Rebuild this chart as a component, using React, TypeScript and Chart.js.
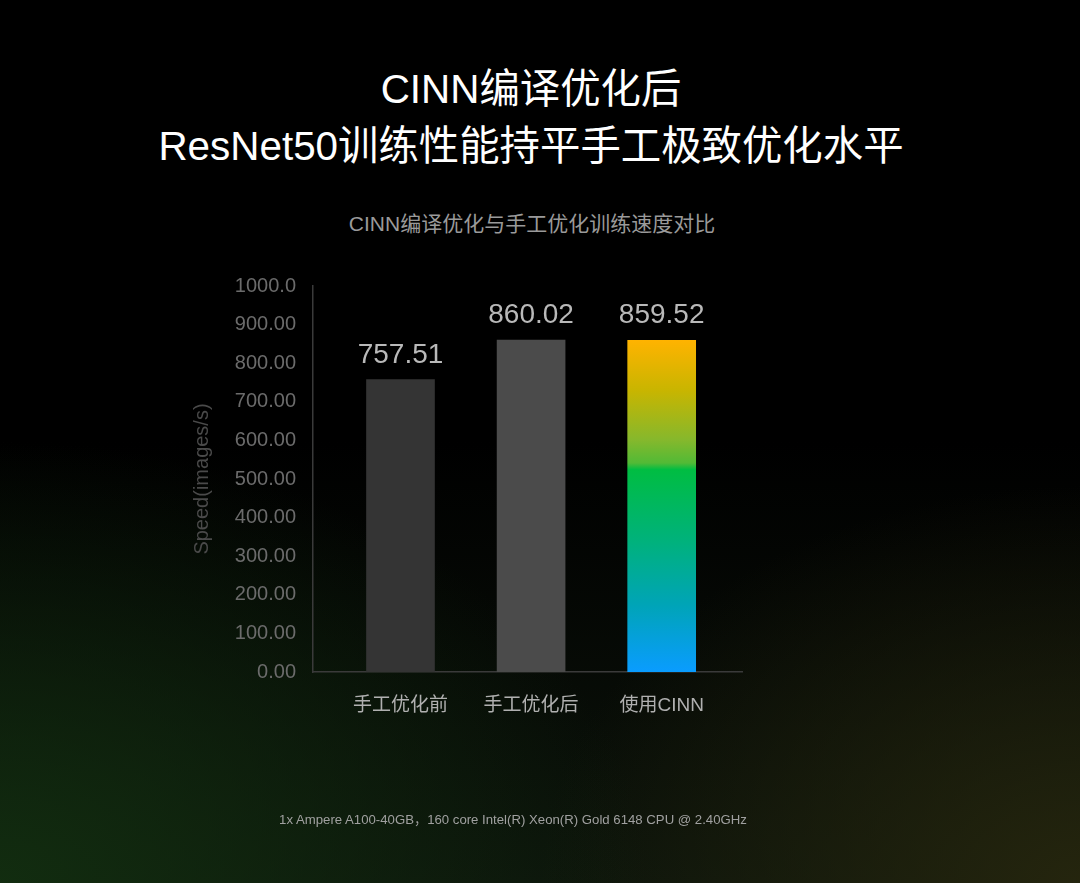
import React, { useEffect, useRef } from "react";
import { Chart, registerables } from "chart.js";

Chart.register(...registerables);

const categories = ["手工优化前", "手工优化后", "使用CINN"];
const speedValues = [757.51, 860.02, 859.52];
const valueLabels = ["757.51", "860.02", "859.52"];
const yTickValues = [0, 100, 200, 300, 400, 500, 600, 700, 800, 900, 1000];
const yTickLabels = ["0.00", "100.00", "200.00", "300.00", "400.00", "500.00", "600.00", "700.00", "800.00", "900.00", "1000.0"];

const FONT = "'Liberation Sans', 'Noto Sans CJK SC', sans-serif";

const valueLabelPlugin = {
  id: "valueLabels",
  afterDatasetsDraw(chart: any) {
    const ctx = chart.ctx;
    const meta = chart.getDatasetMeta(0);
    ctx.save();
    ctx.font = `28px ${FONT}`;
    ctx.fillStyle = "#b9b9b9";
    ctx.textAlign = "center";
    ctx.textBaseline = "alphabetic";
    meta.data.forEach((bar: any, i: number) => {
      ctx.fillText(valueLabels[i], bar.x, bar.y - 17);
    });
    ctx.restore();
  },
};

export default function App() {
  const ref = useRef<HTMLCanvasElement | null>(null);

  useEffect(() => {
    if (!ref.current) return;
    Chart.defaults.font.family = FONT;
    const chart = new Chart(ref.current, {
      type: "bar",
      data: {
        datasets: [
          {
            data: categories.map((_, i) => ({ x: i, y: speedValues[i] })),
            barThickness: 68,
            borderWidth: 0,
            backgroundColor: (c: any) => {
              const i = c.dataIndex;
              if (i === 0) return "#343434";
              if (i === 1) return "#4b4b4b";
              const chartRef = c.chart;
              const area = chartRef.chartArea;
              const ys = chartRef.scales?.y;
              if (!area || !ys) return "#00bd42";
              const top = ys.getPixelForValue(speedValues[i]);
              const bottom = ys.getPixelForValue(0);
              const g = chartRef.ctx.createLinearGradient(0, top, 0, bottom);
              g.addColorStop(0, "#ffb300");
              g.addColorStop(0.15, "#c9b500");
              g.addColorStop(0.3, "#86b82c");
              g.addColorStop(0.37, "#52ba36");
              g.addColorStop(0.39, "#00bd42");
              g.addColorStop(0.6, "#00b27a");
              g.addColorStop(0.8, "#00a4b8");
              g.addColorStop(1, "#0a9cff");
              return g;
            },
          },
        ],
      },
      options: {
        responsive: false,
        animation: false,
        devicePixelRatio: 1,
        layout: { padding: { left: 186, right: 338, top: 286, bottom: 151 } },
        plugins: {
          legend: { display: false },
          tooltip: { enabled: false },
        },
        scales: {
          x: {
            type: "linear",
            offset: false,
            min: -0.67,
            max: 2.615,
            afterBuildTicks: (scale: any) => {
              scale.ticks = categories.map((_, i) => ({ value: i }));
            },
            afterFit: (scale: any) => {
              scale.height = 60;
            },
            grid: { display: false, drawTicks: false, offset: false },
            border: { display: true, color: "#3a3a3a", width: 1.5 },
            ticks: {
              color: "#b0b0b0",
              font: { size: 19 },
              padding: 22,
              maxRotation: 0,
              autoSkip: false,
              callback: (v: any) => categories[v as number] ?? "",
            },
          },
          y: {
            min: 0,
            max: 1000,
            afterBuildTicks: (scale: any) => {
              scale.ticks = yTickValues.map((v) => ({ value: v }));
            },
            afterFit: (scale: any) => {
              scale.width = 127;
            },
            grid: { display: false, drawTicks: false },
            border: { display: true, color: "#3a3a3a", width: 1.5 },
            ticks: {
              color: "#6b6b6b",
              font: { size: 20 },
              padding: 17,
              callback: (v: any) => {
                const idx = yTickValues.indexOf(v as number);
                return idx >= 0 ? yTickLabels[idx] : "";
              },
            },
            title: {
              display: true,
              text: "Speed(images/s)",
              color: "#4a4a4a",
              font: { size: 20 },
              padding: { top: 4, bottom: 4 },
            },
          },
        },
      },
      plugins: [valueLabelPlugin],
    } as any);
    return () => chart.destroy();
  }, []);

  return (
    <div
      style={{
        position: "fixed",
        left: 0,
        top: 0,
        width: 1080,
        height: 883,
        overflow: "hidden",
        backgroundColor: "#000",
        backgroundImage:
          "radial-gradient(ellipse 60% 50% at 0% 100%, rgba(18,46,16,0.95), rgba(18,46,16,0) 100%), radial-gradient(ellipse 50% 45% at 100% 100%, rgba(38,38,14,0.95), rgba(38,38,14,0) 100%), linear-gradient(to bottom, #000 0%, #000 50%, #0c140b 100%)",
        fontFamily: FONT,
      }}
    >
      <div
        style={{
          position: "absolute",
          left: 0,
          width: 1062,
          top: 61,
          textAlign: "center",
          color: "#ffffff",
          fontSize: 40.4,
          lineHeight: "57px",
          whiteSpace: "nowrap",
        }}
      >
        <div>CINN编译优化后</div>
        <div>ResNet50训练性能持平手工极致优化水平</div>
      </div>
      <div
        style={{
          position: "absolute",
          left: 0,
          width: 1064,
          top: 210,
          textAlign: "center",
          color: "#9a9a9a",
          fontSize: 21,
          lineHeight: "28px",
          whiteSpace: "nowrap",
        }}
      >
        CINN编译优化与手工优化训练速度对比
      </div>
      <canvas
        ref={ref}
        width={1080}
        height={883}
        style={{ position: "absolute", left: 0, top: 0, width: 1080, height: 883 }}
      />
      <div
        style={{
          position: "absolute",
          left: 0,
          width: 1026,
          top: 810,
          textAlign: "center",
          color: "#a0a0a0",
          fontSize: 13.2,
          lineHeight: "20px",
          whiteSpace: "nowrap",
        }}
      >
        1x Ampere A100-40GB，160 core Intel(R) Xeon(R) Gold 6148 CPU @ 2.40GHz
      </div>
    </div>
  );
}
